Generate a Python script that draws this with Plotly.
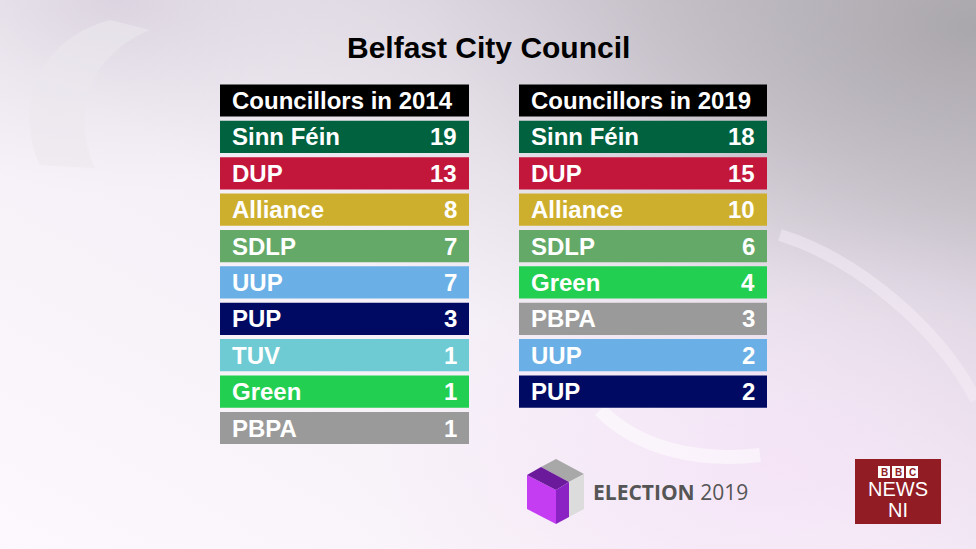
import base64
import plotly.graph_objects as go

# ---------------- data ----------------
title_text = "Belfast City Council"
header_2014 = "Councillors in 2014"
header_2019 = "Councillors in 2019"

parties_2014 = ["Sinn Féin", "DUP", "Alliance", "SDLP", "UUP", "PUP", "TUV", "Green", "PBPA"]
seats_2014 = [19, 13, 8, 7, 7, 3, 1, 1, 1]

parties_2019 = ["Sinn Féin", "DUP", "Alliance", "SDLP", "Green", "PBPA", "UUP", "PUP"]
seats_2019 = [18, 15, 10, 6, 4, 3, 2, 2]

party_colors = {
    "Sinn Féin": "#00623f",
    "DUP": "#c3163b",
    "Alliance": "#ceaf2d",
    "SDLP": "#65a968",
    "UUP": "#6aafe5",
    "PUP": "#000a62",
    "TUV": "#6ecad3",
    "Green": "#23cf51",
    "PBPA": "#9a9a9a",
}
header_color = "#000000"

W, H = 976, 549


def px(x):
    return x / W


def py(y):
    return 1 - y / H


# ---------------- background (decorative) ----------------
svg = f"""<svg xmlns='http://www.w3.org/2000/svg' width='{W}' height='{H}' viewBox='0 0 {W} {H}'>
<defs>
<linearGradient id='base' x1='0' y1='1' x2='1' y2='0'>
<stop offset='0' stop-color='#fdf8fd'/>
<stop offset='0.45' stop-color='#f5f0f7'/>
<stop offset='0.75' stop-color='#d9d3dd'/>
<stop offset='1' stop-color='#b6b3b9'/>
</linearGradient>
<radialGradient id='tr' cx='1' cy='0.05' r='0.55'>
<stop offset='0' stop-color='#a9a6ab' stop-opacity='0.95'/>
<stop offset='0.6' stop-color='#bdb8c0' stop-opacity='0.5'/>
<stop offset='1' stop-color='#d0cad4' stop-opacity='0'/>
</radialGradient>
<radialGradient id='tl' cx='0.12' cy='0' r='0.35'>
<stop offset='0' stop-color='#dad3df' stop-opacity='0.9'/>
<stop offset='1' stop-color='#e8e2ec' stop-opacity='0'/>
</radialGradient>
<radialGradient id='pk' cx='0.8' cy='0.85' r='0.45'>
<stop offset='0' stop-color='#f5e2f7' stop-opacity='0.8'/>
<stop offset='1' stop-color='#f5e2f7' stop-opacity='0'/>
</radialGradient>
</defs>
<rect width='{W}' height='{H}' fill='url(#base)'/>
<rect width='{W}' height='{H}' fill='url(#tl)'/>
<rect width='{W}' height='{H}' fill='url(#tr)'/>
<rect width='{W}' height='{H}' fill='url(#pk)'/>
<path d='M 40 165 C 15 110 35 40 110 20 L 150 30 C 90 55 70 110 95 168 Z' fill='#ebe8ed' fill-opacity='0.6'/>
<path d='M 600 410 C 640 450 700 462 760 455' stroke='#ffffff' stroke-opacity='0.5' stroke-width='14' fill='none'/>
<path d='M 780 235 C 860 260 940 330 976 400' stroke='#f6eef8' stroke-opacity='0.5' stroke-width='12' fill='none'/>
</svg>"""
bg_uri = "data:image/svg+xml;base64," + base64.b64encode(svg.encode("utf-8")).decode("ascii")

# ---------------- figure ----------------
fig = go.Figure()

tables = [
    (header_2014, parties_2014, seats_2014, "x", "y"),
    (header_2019, parties_2019, seats_2019, "x2", "y2"),
]

TEXT_FONT = "Liberation Sans, Arial, sans-serif"
ROW_FONT = dict(family=TEXT_FONT, size=24, color="white", weight="bold")
annotations = []

for header, parties, seats, xa, ya in tables:
    rows = [header] + parties
    colors = [header_color] + [party_colors[p] for p in parties]
    fig.add_trace(go.Bar(
        x=[1] * len(rows),
        y=list(range(len(rows))),
        orientation="h",
        marker=dict(color=colors, line=dict(width=0)),
        width=0.885,
        xaxis=xa, yaxis=ya,
        hoverinfo="skip",
        showlegend=False,
    ))
    annotations.append(dict(
        x=0, y=0, xref=xa, yref=ya, text=header, showarrow=False,
        xanchor="left", yanchor="middle", xshift=10,
        font=ROW_FONT,
    ))
    for i, (p, s) in enumerate(zip(parties, seats), start=1):
        annotations.append(dict(
            x=0, y=i, xref=xa, yref=ya, text=p, showarrow=False,
            xanchor="left", yanchor="middle", xshift=10,
            font=ROW_FONT,
        ))
        annotations.append(dict(
            x=1, y=i, xref=xa, yref=ya, text=str(s), showarrow=False,
            xanchor="right", yanchor="middle", xshift=-10,
            font=ROW_FONT,
        ))

# title
annotations.append(dict(
    x=px(488), y=py(48), xref="paper", yref="paper", text=title_text, showarrow=False,
    xanchor="center", yanchor="middle",
    font=dict(family=TEXT_FONT, size=30, color="black", weight="bold"),
))

# ELECTION 2019 logo text
annotations.append(dict(
    x=px(591), y=py(492), xref="paper", yref="paper",
    text="<b>ELECTION</b> 2019", showarrow=False,
    xanchor="left", yanchor="middle",
    font=dict(family="Open Sans, sans-serif", size=21, color="#555555"),
))

# BBC NEWS NI logo
shapes = []
shapes.append(dict(type="rect", xref="paper", yref="paper",
                   x0=px(855), x1=px(941), y0=py(524), y1=py(459),
                   fillcolor="#911c24", line=dict(width=0), layer="above"))
for k, letter in enumerate("BBC"):
    x0 = 878 + k * 14
    shapes.append(dict(type="rect", xref="paper", yref="paper",
                       x0=px(x0), x1=px(x0 + 12), y0=py(478), y1=py(466),
                       fillcolor="white", line=dict(width=0), layer="above"))
    annotations.append(dict(
        x=px(x0 + 6), y=py(472), xref="paper", yref="paper", text=letter, showarrow=False,
        xanchor="center", yanchor="middle", height=9, borderpad=0,
        font=dict(family=TEXT_FONT, size=10, color="#911c24", weight="bold"),
    ))
annotations.append(dict(
    x=px(898), y=py(488), xref="paper", yref="paper", text="NEWS", showarrow=False,
    xanchor="center", yanchor="middle", height=15, borderpad=0,
    font=dict(family=TEXT_FONT, size=20, color="white"),
))
annotations.append(dict(
    x=px(898), y=py(509), xref="paper", yref="paper", text="NI", showarrow=False,
    xanchor="center", yanchor="middle", height=15, borderpad=0,
    font=dict(family=TEXT_FONT, size=20, color="white"),
))


# cube icon
def poly(points, color):
    d = "M " + " L ".join(f"{px(x):.5f},{py(y):.5f}" for x, y in points) + " Z"
    return dict(type="path", xref="paper", yref="paper", path=d,
                fillcolor=color, line=dict(width=0), layer="above")


shapes.append(poly([(527, 475), (556, 490), (556, 524), (527, 509)], "#c43df3"))
shapes.append(poly([(541, 467), (556, 459), (584, 474), (569, 482)], "#a8a8a8"))
shapes.append(poly([(527, 475), (541, 467), (569, 482), (556, 490)], "#6b1a9c"))
shapes.append(poly([(556, 490), (569, 482), (569, 517), (556, 524)], "#8a22c4"))
shapes.append(poly([(569, 482), (584, 474), (584, 509), (569, 517)], "#dcdcdc"))

axis_common = dict(visible=False, fixedrange=True)
fig.update_layout(
    width=W, height=H,
    margin=dict(l=0, r=0, t=0, b=0),
    paper_bgcolor="#f0ecf2",
    plot_bgcolor="rgba(0,0,0,0)",
    barmode="overlay",
    xaxis=dict(domain=[px(220), px(469)], range=[0, 1], **axis_common),
    xaxis2=dict(domain=[px(519), px(767)], range=[0, 1], anchor="y2", **axis_common),
    yaxis=dict(domain=[py(446.2), py(82.3)], range=[9.5, -0.5], **axis_common),
    yaxis2=dict(domain=[py(446.2), py(82.3)], range=[9.5, -0.5], anchor="x2", **axis_common),
    annotations=annotations,
    shapes=shapes,
    images=[dict(source=bg_uri, xref="paper", yref="paper", x=0, y=1,
                 sizex=1, sizey=1, xanchor="left", yanchor="top",
                 sizing="stretch", layer="below")],
)

fig.write_html(
    "out.html",
    config={"displayModeBar": False},
    post_script="document.body.style.margin='0';document.body.style.overflow='hidden';",
)
